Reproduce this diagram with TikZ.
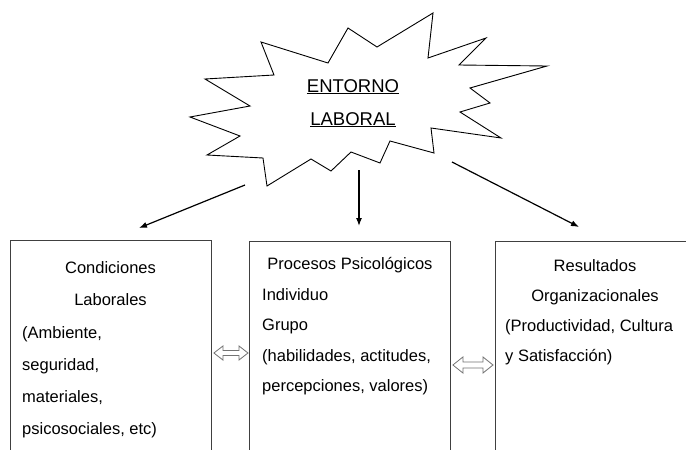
\documentclass[tikz,border=0pt]{standalone}
\usepackage{fontspec}
\setmainfont{Liberation Sans}
\usetikzlibrary{arrows.meta,calc}
\begin{document}
\begin{tikzpicture}[x=1pt,y=-1pt,
  box/.style={draw=black!75, line width=0.9pt, minimum width=201pt, minimum height=225pt, inner sep=0pt, anchor=north west},
  txt/.style={font=\fontsize{16.5}{20}\selectfont, text=black, inner sep=0pt},
  lt/.style={txt, anchor=base west},
  ct/.style={txt, anchor=base},
  ttl/.style={font=\fontsize{18.5}{22}\selectfont, text=black, inner sep=0pt, anchor=base},
  burst/.style={draw=black, line width=0.9pt, line join=miter},
  arr/.style={line width=1.2pt, -{Latex[length=8pt,width=6pt]}},
  hollow/.style={draw=black!55, line width=0.8pt, fill=white, line join=miter}
]
\useasboundingbox (0,0) rectangle (686,450);
\clip (0,0) rectangle (686,450);
\fill[white] (0,0) rectangle (686,450);

% starburst
\draw[burst] (261,42) -- (328,63) -- (348,28) -- (377,47) -- (433,13) -- (428,58)
  -- (486,38) -- (459,65) -- (547,66) -- (470,88) -- (490,103) -- (460,112)
  -- (501,138) -- (431,128) -- (434,153) -- (390,141) -- (380,163) -- (351,152)
  -- (331,171) -- (311,159) -- (267,186) -- (263,158) -- (207,155) -- (240,136)
  -- (190,117) -- (250,106) -- (205,79) -- (274,75) -- cycle;
\node[ttl] (ent) at (353,92) {\underline{ENTORNO}};
\node[ttl] (lab) at (353,125) {\underline{LABORAL}};

% boxes
\node[box] (cond) at (10,240) {};
\node[box] (proc) at (249,241) {};
\node[box] (res) at (495,241) {};

% left box text
\node[ct] (c1) at (110.5,273) {Condiciones};
\node[ct] (c2) at (110.5,305) {Laborales};
\node[lt] (c3) at (22,338) {(Ambiente,};
\node[lt] (c4) at (22,370) {seguridad,};
\node[lt] (c5) at (22,402) {materiales,};
\node[lt] (c6) at (22,434) {psicosociales, etc)};

% middle box text
\node[ct] (p1) at (350,269) {Procesos Psicológicos};
\node[lt] (p2) at (262,300) {Individuo};
\node[lt] (p3) at (262,330) {Grupo};
\node[lt] (p4) at (262,361) {(habilidades, actitudes,};
\node[lt] (p5) at (262,391) {percepciones, valores)};

% right box text
\node[ct] (r1) at (595,271) {Resultados};
\node[ct] (r2) at (595,301) {Organizacionales};
\node[lt] (r3) at (505,331) {(Productividad, Cultura};
\node[lt] (r4) at (505,361) {y Satisfacción)};

% arrows from starburst
\coordinate (s1) at (245,185);
\coordinate (s2) at (359,170);
\coordinate (s3) at (452,162);
\coordinate (t1) at (139,228);
\coordinate (t2) at (359,226);
\coordinate (t3) at (579,227);
\draw[arr] (s1) -- (t1);
\draw[arr] (s2) -- (t2);
\draw[arr] (s3) -- (t3);

% hollow double arrows between boxes
\coordinate (y1) at (0,353);
\coordinate (y2) at (0,365);
\coordinate (d1a) at ($(cond.east |- y1)+(2,0)$);
\coordinate (d1b) at ($(proc.west |- y1)+(-1,0)$);
\coordinate (d2a) at ($(proc.east |- y2)+(2,0)$);
\coordinate (d2b) at ($(res.west |- y2)+(-2,0)$);
\draw[hollow] (d1a) -- ++(9,-7) -- ++(0,4.5) -- ($(d1b)+(-9,-2.5)$) -- ++(0,-4.5)
  -- (d1b) -- ++(-9,7) -- ++(0,-4.5) -- ($(d1a)+(9,2.5)$) -- ++(0,4.5) -- cycle;
\draw[hollow] (d2a) -- ++(10,-8) -- ++(0,5) -- ($(d2b)+(-10,-3)$) -- ++(0,-5)
  -- (d2b) -- ++(-10,8) -- ++(0,-5) -- ($(d2a)+(10,3)$) -- ++(0,5) -- cycle;
\end{tikzpicture}
\end{document}
